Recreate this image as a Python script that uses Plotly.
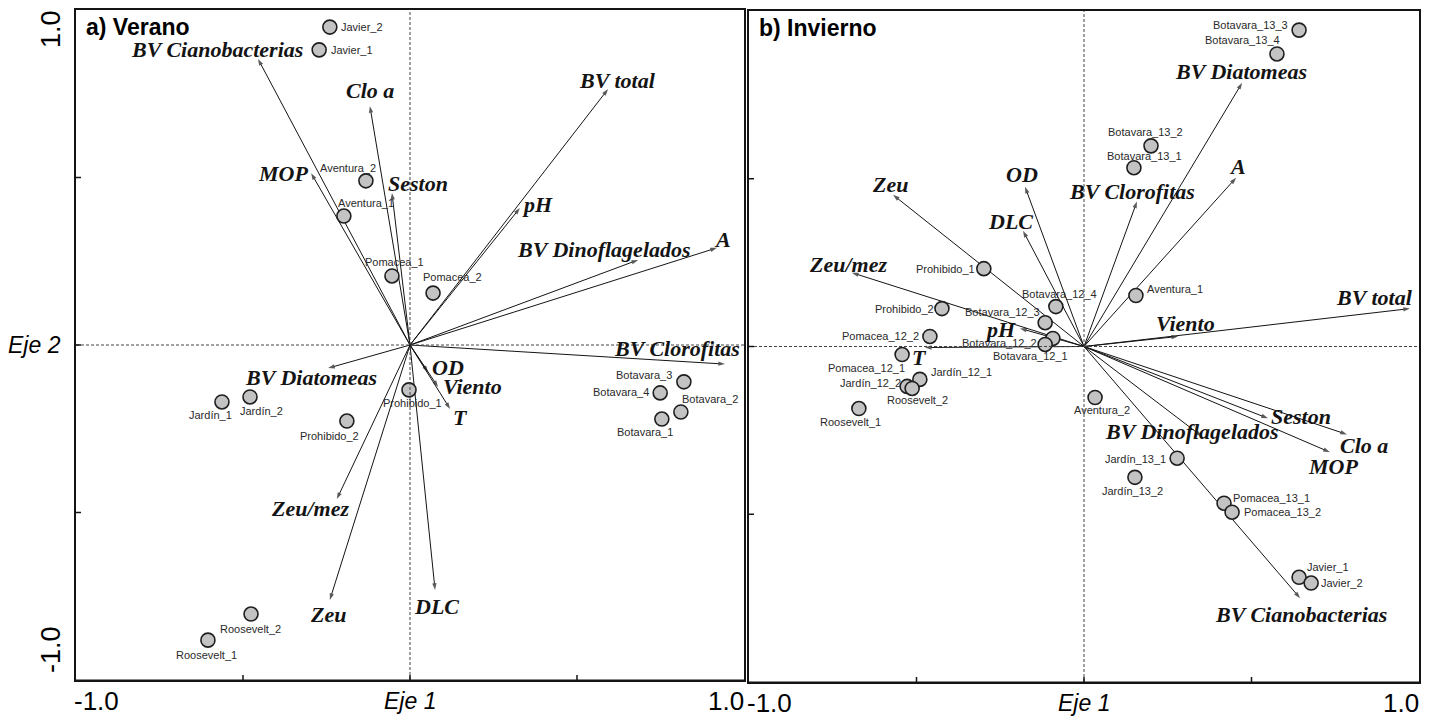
import plotly.graph_objects as go

# ---------------- a) Verano ----------------
verano_sites = ["Javier_2", "Javier_1", "Aventura_2", "Aventura_1", "Pomacea_1", "Pomacea_2",
                "Prohibido_1", "Jardín_1", "Jardín_2", "Prohibido_2", "Roosevelt_2", "Roosevelt_1",
                "Botavara_3", "Botavara_4", "Botavara_2", "Botavara_1"]
verano_site_x = [-0.240, -0.272, -0.132, -0.198, -0.054, 0.069, -0.003, -0.563, -0.479, -0.189,
                 -0.476, -0.605, 0.820, 0.749, 0.811, 0.754]
verano_site_y = [0.949, 0.881, 0.490, 0.385, 0.206, 0.155, -0.134, -0.170, -0.155, -0.227,
                 -0.803, -0.881, -0.110, -0.143, -0.200, -0.221]

verano_vars = ["BV Cianobacterias", "Clo a", "MOP", "Seston", "BV total", "pH", "BV Dinoflagelados",
               "A", "BV Clorofitas", "BV Diatomeas", "Zeu/mez", "Zeu", "DLC", "OD", "Viento", "T"]
verano_var_x = [-0.455, -0.120, -0.296, -0.054, 0.593, 0.329, 0.683, 0.919, 0.943, -0.245,
                -0.219, -0.240, 0.075, 0.054, 0.084, 0.120]
verano_var_y = [0.854, 0.713, 0.513, 0.454, 0.764, 0.409, 0.254, 0.290, -0.057, -0.069,
                -0.460, -0.761, -0.731, -0.081, -0.125, -0.191]

# ---------------- b) Invierno ----------------
invierno_sites = ["Botavara_13_3", "Botavara_13_4", "Botavara_13_2", "Botavara_13_1", "Aventura_1",
                  "Prohibido_1", "Prohibido_2", "Botavara_12_4", "Botavara_12_3", "Pomacea_12_2",
                  "Botavara_12_2", "Botavara_12_1", "Pomacea_12_1", "Jardín_12_1", "Jardín_12_2",
                  "Roosevelt_2", "Roosevelt_1", "Aventura_2", "Jardín_13_1", "Jardín_13_2",
                  "Pomacea_13_1", "Pomacea_13_2", "Javier_1", "Javier_2"]
invierno_site_x = [0.642, 0.576, 0.200, 0.149, 0.155, -0.299, -0.424, -0.084, -0.116, -0.460,
                   -0.093, -0.116, -0.543, -0.490, -0.528, -0.513, -0.672, 0.033, 0.278, 0.152,
                   0.418, 0.442, 0.642, 0.678]
invierno_site_y = [0.943, 0.872, 0.598, 0.533, 0.152, 0.232, 0.113, 0.119, 0.071, 0.030,
                   0.024, 0.006, -0.024, -0.098, -0.119, -0.125, -0.185, -0.152, -0.333, -0.390,
                   -0.467, -0.494, -0.688, -0.705]

invierno_vars = ["BV Diatomeas", "A", "BV Clorofitas", "BV total", "Viento", "OD", "DLC", "Zeu",
                 "Zeu/mez", "pH", "T", "Seston", "Clo a", "MOP", "BV Dinoflagelados",
                 "BV Cianobacterias"]
invierno_var_x = [0.472, 0.454, 0.158, 0.973, 0.281, -0.176, -0.182, -0.570, -0.693, -0.191,
                  -0.475, 0.549, 0.785, 0.734, 0.352, 0.645]
invierno_var_y = [0.786, 0.503, 0.432, 0.113, 0.030, 0.476, 0.345, 0.452, 0.220, 0.054,
                  -0.003, -0.214, -0.262, -0.315, -0.268, -0.750]

axis_ticks = [-0.5, 0.0, 0.5]
x_tick_text = ["-1.0", "Eje 1", "1.0"]
y_tick_text = ["1.0", "Eje 2", "-1.0"]

# label offsets in pixels (dx, dy up) relative to the point / arrow tip
verano_site_shift = {
    "Javier_2": (32, 0), "Javier_1": (33, 0), "Aventura_2": (-18, 13), "Aventura_1": (22, 13),
    "Pomacea_1": (3, 14), "Pomacea_2": (19, 16), "Prohibido_1": (3, -13), "Jardín_1": (-11, -13),
    "Jardín_2": (11, -14), "Prohibido_2": (-17, -15), "Roosevelt_2": (-1, -15),
    "Roosevelt_1": (-1, -15), "Botavara_3": (-40, 7), "Botavara_4": (-39, 1),
    "Botavara_2": (29, 13), "Botavara_1": (-17, -13),
}
verano_var_shift = {
    "BV Cianobacterias": (-41, 9), "Clo a": (0, 16), "MOP": (-28, 0), "Seston": (26, 9),
    "BV total": (9, 9), "pH": (18, 3), "BV Dinoflagelados": (-34, 10), "A": (6, 8),
    "BV Clorofitas": (-48, 16), "BV Diatomeas": (-17, -9), "Zeu/mez": (-27, -9),
    "Zeu": (-2, -15), "DLC": (1, -17), "OD": (20, 5), "Viento": (34, 0), "T": (10, -9),
}
invierno_site_shift = {
    "Botavara_13_3": (-49, 5), "Botavara_13_4": (-34, 14), "Botavara_13_2": (-6, 14),
    "Botavara_13_1": (11, 12), "Aventura_1": (39, 7), "Prohibido_1": (-38, 0),
    "Prohibido_2": (-37, 0), "Botavara_12_4": (4, 13), "Botavara_12_3": (-43, 11),
    "Pomacea_12_2": (-49, 0), "Botavara_12_2": (-53, -5), "Botavara_12_1": (-15, -12),
    "Pomacea_12_1": (-36, -13), "Jardín_12_1": (42, 7), "Jardín_12_2": (-37, 3),
    "Roosevelt_2": (5, -12), "Roosevelt_1": (-8, -13), "Aventura_2": (7, -12),
    "Jardín_13_1": (-42, -1), "Jardín_13_2": (-2, -14), "Pomacea_13_1": (47, 5),
    "Pomacea_13_2": (50, 0), "Javier_1": (29, 10), "Javier_2": (31, 0),
}
invierno_var_shift = {
    "BV Diatomeas": (-1, 11), "A": (1, 11), "BV Clorofitas": (-5, 10), "BV total": (-35, 11),
    "Viento": (7, 13), "OD": (-3, 12), "DLC": (-13, 9), "Zeu": (-3, 10), "Zeu/mez": (-4, 8),
    "pH": (-20, -1), "T": (-5, -10), "Seston": (33, 2), "Clo a": (17, -11), "MOP": (3, -14),
    "BV Dinoflagelados": (-10, 5), "BV Cianobacterias": (1, -16),
}

SANS = "Liberation Sans, Arial, sans-serif"
SERIF = "Liberation Serif, Times New Roman, serif"
INK = "#141414"

W, H = 1437, 718
panels = [
    dict(title="a) Verano", xa="x", ya="y", xdom=[76 / W, 744 / W], ydom=[38 / H, 708 / H],
         sites=verano_sites, sx=verano_site_x, sy=verano_site_y, site_shift=verano_site_shift,
         vars=verano_vars, vx=verano_var_x, vy=verano_var_y, var_shift=verano_var_shift,
         ylabels=True),
    dict(title="b) Invierno", xa="x2", ya="y2", xdom=[749 / W, 1419 / W], ydom=[36 / H, 707 / H],
         sites=invierno_sites, sx=invierno_site_x, sy=invierno_site_y,
         site_shift=invierno_site_shift,
         vars=invierno_vars, vx=invierno_var_x, vy=invierno_var_y, var_shift=invierno_var_shift,
         ylabels=False),
]

fig = go.Figure()
annotations = []
shapes = []

for p in panels:
    xa, ya = p["xa"], p["ya"]

    # variable vectors from the origin
    for name, vx, vy in zip(p["vars"], p["vx"], p["vy"]):
        fig.add_trace(go.Scatter(
            x=[0, vx], y=[0, vy], xaxis=xa, yaxis=ya, mode="lines+markers",
            line=dict(color=INK, width=1),
            marker=dict(symbol="arrow", size=[0, 7], angleref="previous", color=INK,
                        line=dict(width=0)),
            hoverinfo="skip", showlegend=False))
        dx, dy = p["var_shift"][name]
        annotations.append(dict(
            x=vx, y=vy, xref=xa, yref=ya, text=f"<b><i>{name}</i></b>", showarrow=False,
            xshift=dx, yshift=dy, font=dict(family=SERIF, size=22, color=INK)))

    # sampling sites
    fig.add_trace(go.Scatter(
        x=p["sx"], y=p["sy"], xaxis=xa, yaxis=ya, mode="markers",
        marker=dict(symbol="circle", size=14, color="#c3c3c3",
                    line=dict(color="#1e1e1e", width=1.6)),
        hoverinfo="skip", showlegend=False))
    for name, sx, sy in zip(p["sites"], p["sx"], p["sy"]):
        dx, dy = p["site_shift"][name]
        annotations.append(dict(
            x=sx, y=sy, xref=xa, yref=ya, text=name, showarrow=False,
            xshift=dx, yshift=dy, font=dict(family=SANS, size=11, color="#2a2a2a")))

    # dotted reference lines through the origin
    shapes.append(dict(type="line", xref=xa, yref=ya, x0=0, x1=0, y0=-1, y1=1,
                       line=dict(color="#444", width=1, dash="3px,2px")))
    shapes.append(dict(type="line", xref=xa, yref=ya, x0=-1, x1=1, y0=0, y1=0,
                       line=dict(color="#444", width=1, dash="3px,2px")))

    # crossing tick marks on the bottom and left axes
    for v in axis_ticks:
        shapes.append(dict(type="line", xref=xa, yref=ya, x0=v, x1=v,
                           ysizemode="pixel", yanchor=-1, y0=-4, y1=5,
                           line=dict(color=INK, width=1.5)))
        shapes.append(dict(type="line", xref=xa, yref=ya, y0=v, y1=v,
                           xsizemode="pixel", xanchor=-1, x0=-4, x1=5,
                           line=dict(color=INK, width=1.5)))

    # heavier bottom frame line
    shapes.append(dict(type="line", xref=xa, yref=ya, x0=-1, x1=1, y0=-1, y1=-1,
                       ysizemode="pixel", yanchor=-1, line=dict(color=INK, width=3)))

    # panel title
    annotations.append(dict(
        x=-1, y=1, xref=xa, yref=ya, text=f"<b>{p['title']}</b>", showarrow=False,
        xanchor="left", yanchor="top", xshift=8, yshift=-2,
        font=dict(family=SANS, size=23, color="black")))

    # x-axis labels
    annotations.append(dict(x=-1, y=-1, xref=xa, yref=ya, text=x_tick_text[0], showarrow=False,
                            xanchor="left", yanchor="middle", xshift=-3, yshift=-21,
                            borderpad=0, font=dict(family=SANS, size=26, color="black")))
    annotations.append(dict(x=0, y=-1, xref=xa, yref=ya, text=f"<i>{x_tick_text[1]}</i>",
                            showarrow=False, xanchor="center", yanchor="middle", yshift=-21,
                            borderpad=0, font=dict(family=SANS, size=23, color="black")))
    annotations.append(dict(x=1, y=-1, xref=xa, yref=ya, text=x_tick_text[2], showarrow=False,
                            xanchor="right", yanchor="middle", xshift=1, yshift=-21,
                            borderpad=0, font=dict(family=SANS, size=26, color="black")))

    if p["ylabels"]:
        annotations.append(dict(x=-1, y=1, xref=xa, yref=ya, text=y_tick_text[0],
                                showarrow=False, textangle=-90, xshift=-25, yshift=-19,
                                font=dict(family=SANS, size=27, color="black")))
        annotations.append(dict(x=-1, y=0, xref=xa, yref=ya, text=f"<i>{y_tick_text[1]}</i>",
                                showarrow=False, xanchor="right", xshift=-13,
                                font=dict(family=SANS, size=23, color="black")))
        annotations.append(dict(x=-1, y=-1, xref=xa, yref=ya, text=y_tick_text[2],
                                showarrow=False, textangle=-90, xshift=-25, yshift=30,
                                font=dict(family=SANS, size=27, color="black")))

axis_style = dict(range=[-1, 1], showgrid=False, zeroline=False, showticklabels=False,
                  ticks="", showline=True, mirror=True, linecolor=INK, linewidth=2,
                  fixedrange=True)

fig.update_layout(
    width=W, height=H, margin=dict(l=0, r=0, t=0, b=0),
    paper_bgcolor="white", plot_bgcolor="white", showlegend=False,
    xaxis=dict(domain=panels[0]["xdom"], anchor="y", **axis_style),
    yaxis=dict(domain=panels[0]["ydom"], anchor="x", **axis_style),
    xaxis2=dict(domain=panels[1]["xdom"], anchor="y2", **axis_style),
    yaxis2=dict(domain=panels[1]["ydom"], anchor="x2", **axis_style),
    annotations=annotations, shapes=shapes,
)

fig.write_html("out.html")
